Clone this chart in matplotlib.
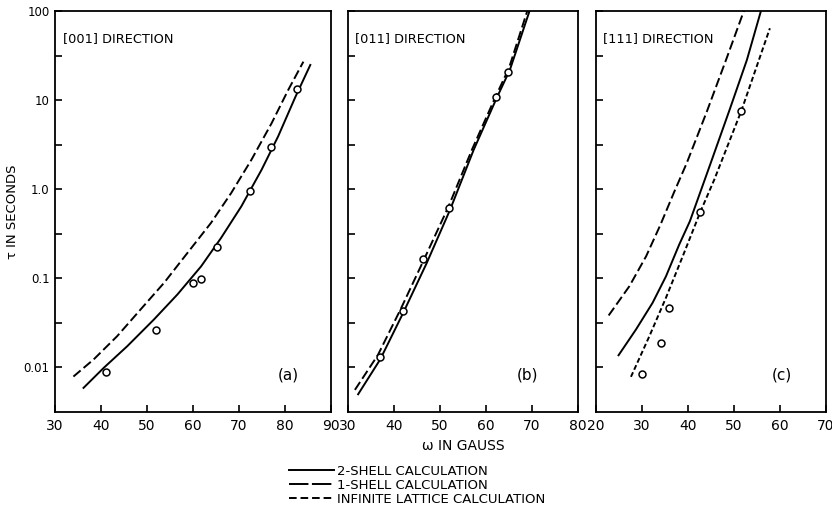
import matplotlib
matplotlib.use("Agg")
import matplotlib.pyplot as plt
from matplotlib.lines import Line2D
from matplotlib.ticker import FixedLocator, FixedFormatter, NullFormatter

plt.rcParams['font.family'] = ['DejaVu Sans']
plt.rcParams['lines.scale_dashes'] = False

# ---------------- data ----------------
# Panel (a) [001]
a_two_x = [36.2, 40.6, 45.7, 51.5, 56.6, 61.75, 66.1, 70.5, 74.9, 78.5, 82.2, 85.5]
a_two_y = [0.0059, 0.0099, 0.0173, 0.0345, 0.0658, 0.136, 0.284, 0.641,
           1.65, 3.91, 10.7, 24.8]
a_one_x = [34.0, 38.4, 43.5, 48.6, 53.7, 58.8, 63.9, 68.3, 72.7, 77.1, 80.7, 84.0]
a_one_y = [0.0079, 0.0123, 0.0224, 0.0447, 0.0889, 0.193, 0.418, 0.906,
           2.14, 5.52, 13.0, 27.0]
a_pts_x = [41.0, 52.0, 60.0, 61.8, 65.2, 72.3, 77.0, 82.7]
a_pts_y = [0.0089, 0.0265, 0.088, 0.099, 0.223, 0.95, 2.97, 13.3]

# Panel (b) [011]
b_two_x = [32.2, 37.0, 42.0, 47.1, 52.2, 57.3, 62.3, 65.2, 69.6]
b_two_y = [0.0050, 0.0123, 0.041, 0.148, 0.59, 2.75, 10.5, 21.9, 105]
b_one_x = [31.5, 36.5, 41.5, 46.6, 51.8, 57.0, 62.0, 65.0, 69.1]
b_one_y = [0.0056, 0.0138, 0.0457, 0.166, 0.63, 2.82, 10.7, 22.9, 105]
b_pts_x = [37.0, 42.0, 46.2, 52.0, 62.1, 64.8]
b_pts_y = [0.0132, 0.0428, 0.166, 0.61, 10.8, 20.9]

# Panel (c) [111]
c_two_x = [24.9, 28.7, 32.3, 35.2, 38.1, 40.4, 44.8, 49.1, 52.8, 55.9]
c_two_y = [0.0137, 0.0267, 0.0531, 0.105, 0.240, 0.436, 1.88, 7.94, 28.2, 102]
c_one_x = [22.75, 27.25, 30.9, 34.0, 37.0, 39.7, 44.1, 48.4, 52.2]
c_one_y = [0.0383, 0.0815, 0.177, 0.398, 0.933, 1.95, 7.45, 29.5, 102]
c_inf_x = [27.6, 31.6, 35.2, 38.85, 42.7, 45.7, 51.6, 57.8]
c_inf_y = [0.00785, 0.0224, 0.0604, 0.1766, 0.560, 1.276, 7.59, 64.0]
c_pts_x = [29.9, 34.1, 35.9, 42.7, 51.6]
c_pts_y = [0.0084, 0.0189, 0.0467, 0.560, 7.58]

y_ticks = [0.01, 0.1, 1.0, 10, 100]
y_ticklabels = ["0.01", "0.1", "1.0", "10", "100"]
y_minor = [10 ** -1.5, 10 ** -0.5, 10 ** 0.5, 10 ** 1.5]

titles = ["[001] DIRECTION", "[011] DIRECTION", "[111] DIRECTION"]
tags = ["(a)", "(b)", "(c)"]
xlims = [(30, 90), (30, 80), (20, 70)]
legend_labels = ["2-SHELL CALCULATION", "1-SHELL CALCULATION",
                 "INFINITE LATTICE CALCULATION"]

# ---------------- styles ----------------
LW = 1.4
solid_kw = dict(color="black", lw=LW, ls="-")
long_kw = dict(color="black", lw=LW, ls=(0, (6.8, 2.8)))
short_kw = dict(color="black", lw=LW, ls=(0, (3.6, 2.0)))
pt_kw = dict(ls="none", marker="o", ms=5, mfc="white", mec="black", mew=1.1)

fig = plt.figure(figsize=(8.32, 5.13), dpi=100)
H = 513.0
W = 832.0
bottom = 1 - 412 / H
height = (412 - 11) / H
axes_px = [(55, 331), (348, 578), (596, 826)]
axes = []
for (l, r) in axes_px:
    axes.append(fig.add_axes([l / W, bottom, (r - l) / W, height]))

series = [
    [(a_two_x, a_two_y, solid_kw), (a_one_x, a_one_y, long_kw)],
    [(b_two_x, b_two_y, solid_kw), (b_one_x, b_one_y, long_kw)],
    [(c_two_x, c_two_y, solid_kw), (c_one_x, c_one_y, long_kw),
     (c_inf_x, c_inf_y, short_kw)],
]
points = [(a_pts_x, a_pts_y), (b_pts_x, b_pts_y), (c_pts_x, c_pts_y)]
tag_x = [0.844, 0.78, 0.81]

for i, ax in enumerate(axes):
    for xs, ys, kw in series[i]:
        ax.plot(xs, ys, solid_joinstyle="round", **kw)
    ax.plot(points[i][0], points[i][1], **pt_kw)
    ax.set_yscale("log")
    ax.set_ylim(10 ** -2.5, 100)
    ax.set_xlim(*xlims[i])
    lo, hi = xlims[i]
    ax.set_xticks(list(range(lo, hi + 1, 10)))
    ax.yaxis.set_major_locator(FixedLocator(y_ticks))
    ax.yaxis.set_minor_locator(FixedLocator(y_minor))
    ax.yaxis.set_minor_formatter(NullFormatter())
    if i == 0:
        ax.yaxis.set_major_formatter(FixedFormatter(y_ticklabels))
    else:
        ax.yaxis.set_major_formatter(NullFormatter())
    ax.tick_params(axis="both", which="both", direction="in", width=1.2)
    ax.tick_params(axis="both", which="major", length=5)
    ax.tick_params(axis="y", which="minor", length=5)
    ax.tick_params(axis="x", labelsize=10, pad=5)
    ax.tick_params(axis="y", labelsize=8.5, pad=4)
    for s in ax.spines.values():
        s.set_linewidth(1.3)
    ax.text(0.03, 0.932, titles[i], transform=ax.transAxes, fontsize=9.3,
            ha="left", va="center")
    ax.text(tag_x[i], 0.092, tags[i], transform=ax.transAxes,
            fontsize=11, ha="center", va="center")

axes[0].set_ylabel("τ IN SECONDS", fontsize=9.5)
axes[0].yaxis.set_label_coords((19 - 55) / 276, 0.5)
axes[1].set_xlabel("ω IN GAUSS", fontsize=10, labelpad=4)

leg_handles = [Line2D([], [], color="black", lw=LW, ls="-"),
               Line2D([], [], color="black", lw=LW, ls=(0, (14, 2.5))),
               Line2D([], [], color="black", lw=LW, ls=(0, (5.5, 2.8)))]
fig.legend(leg_handles, legend_labels, loc="upper left",
           bbox_to_anchor=(289 / W, 1 - 465 / H), frameon=False,
           fontsize=9.5, handlelength=3.4, handletextpad=0.25,
           labelspacing=0.08, borderpad=0, borderaxespad=0)

fig.savefig("out.png", dpi=100)
